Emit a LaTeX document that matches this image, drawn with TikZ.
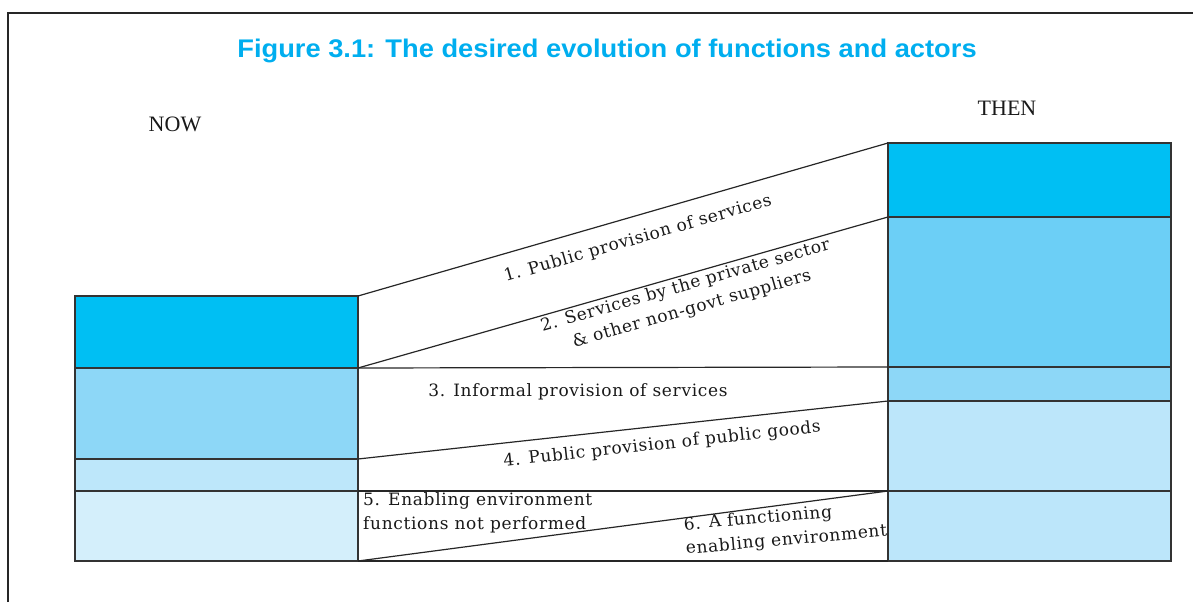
\documentclass[tikz,border=0pt]{standalone}
\usepackage{fontspec}
\setmainfont{DejaVu Serif}[LetterSpace=4]
\newfontfamily\titlefont{Liberation Sans}[FakeStretch=1.07]
\newfontfamily\headfont{Liberation Serif}
\usetikzlibrary{positioning}
\definecolor{figcyan}{HTML}{00AEEF}
\definecolor{nowA}{HTML}{00BFF3}
\definecolor{nowB}{HTML}{8DD7F7}
\definecolor{nowC}{HTML}{BDE7FA}
\definecolor{nowD}{HTML}{D4EFFB}
\definecolor{thenA}{HTML}{00BFF3}
\definecolor{thenB}{HTML}{6CCFF6}
\definecolor{thenC}{HTML}{8DD7F7}
\definecolor{thenD}{HTML}{BCE6FA}

\begin{document}
\begin{tikzpicture}[x=1pt,y=-1pt,
  node distance=0pt,
  blk/.style={draw=black!80,line width=1.2pt,inner sep=0pt,outer sep=0pt,minimum width=283pt},
  lbl/.style={font=\fontsize{17}{24}\selectfont,text=black!90,inner sep=0pt,align=center},
  head/.style={font=\headfont\fontsize{22}{26}\selectfont,text=black!90,anchor=base},
  edge/.style={draw=black!85,line width=1.2pt}
]
\useasboundingbox (0,0) rectangle (1193,602);
\draw[line width=1.5pt,black!85] (8,602) |- (1193,13);

\node[font=\titlefont\bfseries\fontsize{25.5}{30}\selectfont,text=figcyan,anchor=base] (title) at (607,58)
  {Figure 3.1: The desired evolution of functions and actors};
\node[head] (now) at (175,131) {NOW};
\node[head] (then) at (1007,115) {THEN};

% now stack
\node[blk,fill=nowA,minimum height=72pt,anchor=north west] (l1) at (75,296) {};
\node[blk,fill=nowB,minimum height=91pt,below=of l1] (l2) {};
\node[blk,fill=nowC,minimum height=32pt,below=of l2] (l3) {};
\node[blk,fill=nowD,minimum height=70pt,below=of l3] (l4) {};
% then stack
\node[blk,fill=thenA,minimum height=74pt,anchor=north west] (r1) at (888,143) {};
\node[blk,fill=thenB,minimum height=150pt,below=of r1] (r2) {};
\node[blk,fill=thenC,minimum height=34pt,below=of r2] (r3) {};
\node[blk,fill=thenD,minimum height=90pt,below=of r3] (r4) {};
\node[blk,fill=thenD,minimum height=70pt,below=of r4] (r5) {};

\draw[edge] (l1.north east) -- node[lbl,sloped,below=14pt,pos=0.516]
  {1. Public provision of services} (r1.north west);
\draw[edge] (l1.south east) -- node[lbl,sloped,below=2pt,pos=0.612]
  {2. Services by the private sector\\\& other non-govt suppliers} (r2.north west);
\draw[edge] (l2.north east) -- node[lbl,below=15pt,pos=0.415]
  {3. Informal provision of services} (r3.north west);
\draw[edge] (l3.north east) -- node[lbl,sloped,below=10pt,pos=0.57]
  {4. Public provision of public goods} (r4.north west);
\draw[edge] (l4.north east) -- (r5.north west);
\draw[edge] (l4.south east) -- (r5.north west);
\draw[edge] (l4.south east) -- (r5.south west);

\node[lbl,align=left,anchor=north west] (t5) at ([xshift=5pt,yshift=-1pt]l4.north east)
  {5. Enabling environment\\functions not performed};
\node[lbl,align=left,anchor=north west,rotate=5] (t6) at (683,517)
  {6. A functioning\\enabling environment};
\end{tikzpicture}
\end{document}
